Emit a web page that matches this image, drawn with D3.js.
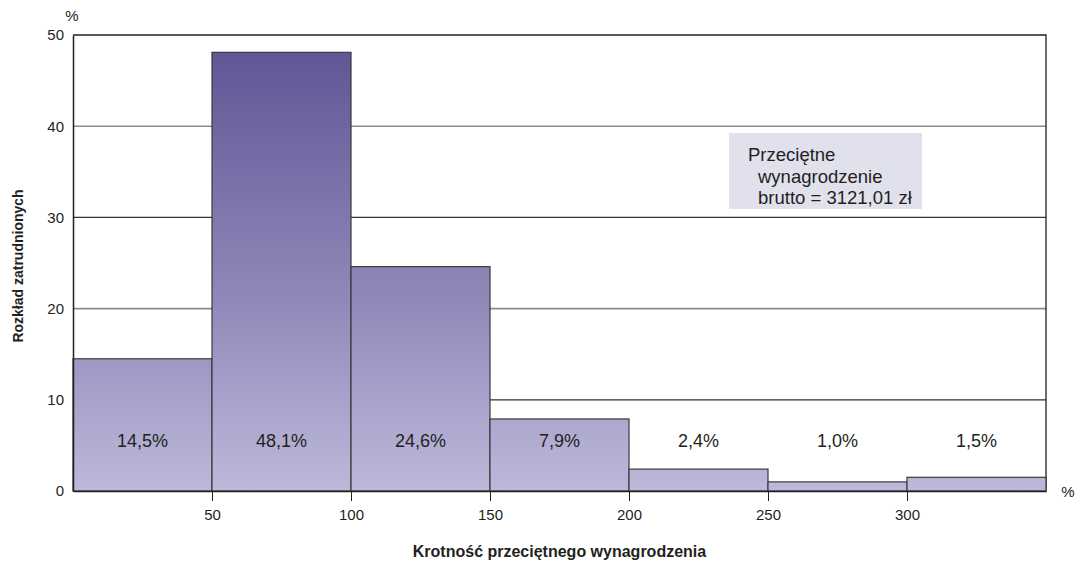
<!DOCTYPE html>
<html>
<head>
<meta charset="utf-8">
<script src="https://cdn.jsdelivr.net/npm/d3@7"></script>
<style>
  body { margin: 0; background: #fff; }
  text { font-family: "Liberation Sans", Arial, sans-serif; fill: #231f20; }
</style>
</head>
<body>
<div id="chart"></div>
<script>
// histogram bins (% of average salary) and share of employees
const binStart = [0, 50, 100, 150, 200, 250, 300];
const binEnd = [50, 100, 150, 200, 250, 300, 350];
const shares = [14.5, 48.1, 24.6, 7.9, 2.4, 1.0, 1.5];
const shareLabels = ["14,5%", "48,1%", "24,6%", "7,9%", "2,4%", "1,0%", "1,5%"];
const xTicks = [50, 100, 150, 200, 250, 300];
const yTicks = [0, 10, 20, 30, 40, 50];
const noteLines = ["Przeciętne", "wynagrodzenie", "brutto = 3121,01 zł"];

const width = 1077, height = 563;
const margin = {left: 73, right: 31, top: 35, bottom: 72};

const svg = d3.select("#chart").append("svg")
    .attr("width", width)
    .attr("height", height);

const x = d3.scaleLinear().domain([0, 350]).range([margin.left, width - margin.right]);
const y = d3.scaleLinear().domain([0, 50]).range([height - margin.bottom, margin.top]);

// gradient runs over the whole plot height so all bars share it
const grad = svg.append("defs").append("linearGradient")
    .attr("id", "barGrad")
    .attr("gradientUnits", "userSpaceOnUse")
    .attr("x1", 0).attr("x2", 0)
    .attr("y1", y(50)).attr("y2", y(0));
grad.append("stop").attr("offset", "0%").attr("stop-color", "#5c5493");
grad.append("stop").attr("offset", "20%").attr("stop-color", "#6e66a0");
grad.append("stop").attr("offset", "60%").attr("stop-color", "#918bbb");
grad.append("stop").attr("offset", "100%").attr("stop-color", "#bdb9da");

// grid lines
svg.append("g")
  .selectAll("line")
  .data(yTicks.filter(d => d > 0 && d < 50))
  .join("line")
    .attr("x1", x(0)).attr("x2", x(350))
    .attr("y1", d => y(d)).attr("y2", d => y(d))
    .attr("stroke", d => d % 20 === 0 ? "#8a8a8a" : "#333")
    .attr("stroke-width", d => d % 20 === 0 ? 1.6 : 1.2);

// frame: top + right
svg.append("path")
    .attr("d", `M${x(0)},${y(50)}H${x(350)}V${y(0)}`)
    .attr("fill", "none")
    .attr("stroke", "#231f20")
    .attr("stroke-width", 1.3);

// bars
const bars = binStart.map((d, i) => ({x0: d, x1: binEnd[i], v: shares[i], label: shareLabels[i]}));
svg.append("g")
  .selectAll("rect")
  .data(bars)
  .join("rect")
    .attr("x", d => x(d.x0))
    .attr("y", d => y(d.v))
    .attr("width", d => x(d.x1) - x(d.x0))
    .attr("height", d => y(0) - y(d.v))
    .attr("fill", "url(#barGrad)")
    .attr("stroke", "#3a3a3a")
    .attr("stroke-width", 1.2);

// value labels
svg.append("g")
  .selectAll("text")
  .data(bars)
  .join("text")
    .attr("x", d => x((d.x0 + d.x1) / 2))
    .attr("y", y(5.5))
    .attr("dy", "0.35em")
    .attr("text-anchor", "middle")
    .style("font-size", "18px")
    .text(d => d.label);

// x axis
const xAxis = svg.append("g")
    .attr("transform", `translate(0,${y(0)})`)
    .call(d3.axisBottom(x).tickValues(xTicks).tickSize(10).tickSizeOuter(0).tickPadding(8).tickFormat(d3.format("d")));
xAxis.select(".domain").attr("stroke", "#231f20").attr("stroke-width", 1.5);
xAxis.selectAll(".tick line").attr("stroke", "#231f20");
xAxis.selectAll("text").style("font-size", "15px").attr("fill", "#231f20");

// y axis
const yAxis = svg.append("g")
    .attr("transform", `translate(${x(0)},0)`)
    .call(d3.axisLeft(y).tickValues(yTicks).tickSize(0).tickPadding(9));
yAxis.select(".domain").attr("stroke", "#231f20").attr("stroke-width", 1.5);
yAxis.selectAll("text").style("font-size", "15px").attr("fill", "#231f20");

// units
svg.append("text")
    .attr("x", 72).attr("y", 21)
    .attr("text-anchor", "middle")
    .style("font-size", "15px")
    .text("%");
svg.append("text")
    .attr("x", 1068).attr("y", 497)
    .attr("text-anchor", "middle")
    .style("font-size", "15px")
    .text("%");

// axis titles
svg.append("text")
    .attr("transform", "translate(23,266) rotate(-90)")
    .attr("text-anchor", "middle")
    .style("font-size", "14px")
    .style("font-weight", "bold")
    .text("Rozkład zatrudnionych");
svg.append("text")
    .attr("x", (x(0) + x(350)) / 2)
    .attr("y", 557)
    .attr("text-anchor", "middle")
    .style("font-size", "16px")
    .style("font-weight", "bold")
    .text("Krotność przeciętnego wynagrodzenia");

// note box
const note = svg.append("g").attr("transform", "translate(729,133)");
note.append("rect")
    .attr("width", 193).attr("height", 76)
    .attr("fill", "#e1e0ed");
note.selectAll("text")
  .data(noteLines)
  .join("text")
    .attr("x", (d, i) => i === 0 ? 19 : 29)
    .attr("y", (d, i) => 28 + i * 21.5)
    .style("font-size", "18.5px")
    .text(d => d);
</script>
</body>
</html>
